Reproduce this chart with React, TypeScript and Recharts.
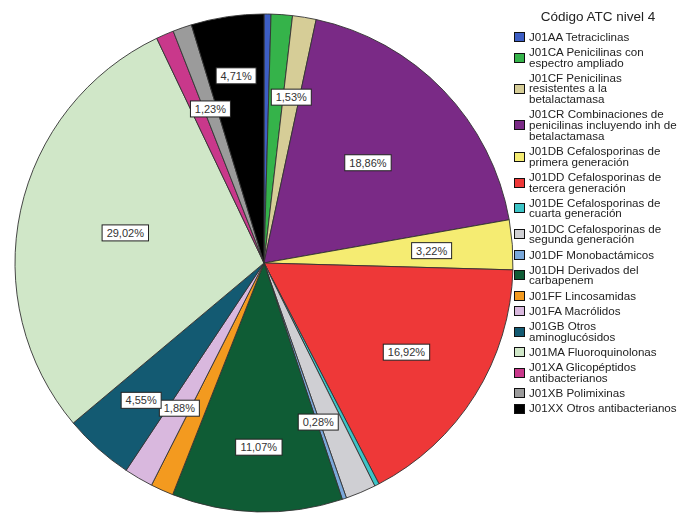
import React from 'react';
import { PieChart, Pie, Cell, Legend } from 'recharts';

// ATC level-4 codes, in the order they are drawn (clockwise from 12 o'clock)
const categories = [
  'J01AA Tetraciclinas',
  'J01CA Penicilinas con\nespectro ampliado',
  'J01CF Penicilinas\nresistentes a la\nbetalactamasa',
  'J01CR Combinaciones de\npenicilinas incluyendo inh de\nbetalactamasa',
  'J01DB Cefalosporinas de\nprimera generación',
  'J01DD Cefalosporinas de\ntercera generación',
  'J01DE Cefalosporinas de\ncuarta generación',
  'J01DC Cefalosporinas de\nsegunda generación',
  'J01DF Monobactámicos',
  'J01DH Derivados del\ncarbapenem',
  'J01FF Lincosamidas',
  'J01FA Macrólidos',
  'J01GB Otros\naminoglucósidos',
  'J01MA Fluoroquinolonas',
  'J01XA Glicopéptidos\nantibacterianos',
  'J01XB Polimixinas',
  'J01XX Otros antibacterianos',
];

// share of total (%)
const shares = [
  0.45, 1.38, 1.53, 18.86, 3.22, 16.92, 0.3, 1.97, 0.28, 11.07, 1.48, 1.88, 4.55, 29.02, 1.15, 1.23, 4.71,
];

// slices that carry a percentage box
const labelled = [
  false, false, true, true, true, true, false, false, true, true, false, true, true, true, false, true, true,
];

const colors = [
  '#3d5ec4', '#35b34a', '#d6cd97', '#7a2a86', '#f5ec72', '#ee3838', '#3cc4c6', '#cfcfd3', '#7aa8da',
  '#0f5c35', '#f39a1f', '#d9b8de', '#135a72', '#d0e7c8', '#c9388b', '#9b9b9b', '#000000',
];

const data = categories.map((name, i) => ({ name, value: shares[i], showLabel: labelled[i] }));

const FONT = '"Liberation Sans", Arial, sans-serif';
const RAD = Math.PI / 180;

// how far out each percentage box sits, as a fraction of the radius
const labelDepth: Record<number, number> = { 3: 0.58, 9: 0.74, 12: 0.74, 13: 0.57, 15: 0.655, 16: 0.76 };

const renderLabel = (props: any) => {
  const { cx, cy, midAngle, outerRadius, index, value } = props;
  if (!data[index].showLabel) return null;
  const r = outerRadius * (labelDepth[index] ?? 0.675);
  const x = cx + r * Math.cos(-midAngle * RAD);
  const y = cy + r * Math.sin(-midAngle * RAD);
  const text = `${value.toFixed(2).replace('.', ',')}%`;
  const w = text.length * 6.4 + 8;
  const h = 16;
  return (
    <g>
      <rect x={x - w / 2} y={y - h / 2} width={w} height={h} fill="#fff" stroke="#222" strokeWidth={1} />
      <text x={x} y={y + 4} textAnchor="middle" fontSize={11} fontFamily={FONT} fill="#333">
        {text}
      </text>
    </g>
  );
};

const renderLegend = () => (
  <div style={{ fontFamily: FONT, color: '#222' }}>
    <div style={{ fontSize: 13.5, lineHeight: '16px', textAlign: 'center', width: 168, marginTop: 9, marginBottom: 6.6 }}>
      Código ATC nivel 4
    </div>
    {categories.map((name, i) => (
      <div key={name} style={{ display: 'flex', alignItems: 'center', marginBottom: 4.5 }}>
        <div
          style={{
            width: 11,
            height: 10,
            boxSizing: 'border-box',
            border: '1px solid #111',
            background: colors[i],
            marginRight: 4,
            flexShrink: 0,
          }}
        />
        <div style={{ fontSize: 11.6, lineHeight: '10.7px', whiteSpace: 'pre-line' }}>{name}</div>
      </div>
    ))}
  </div>
);

export default function App() {
  return (
    <div style={{ position: 'fixed', left: 0, top: 0, width: 677, height: 516, background: '#fff' }}>
      <PieChart width={677} height={516} margin={{ top: 0, right: 0, bottom: 0, left: 0 }}>
        <Pie
          data={data}
          dataKey="value"
          nameKey="name"
          cx={264}
          cy={263}
          outerRadius={249}
          startAngle={90}
          endAngle={-270}
          stroke="#333"
          strokeWidth={0.9}
          label={renderLabel}
          labelLine={false}
          isAnimationActive={false}
        >
          {data.map((d, i) => (
            <Cell key={d.name} fill={colors[i]} />
          ))}
        </Pie>
        <Legend
          content={renderLegend}
          wrapperStyle={{ left: 514, right: 'auto', top: 0, width: 163, bottom: 'auto' }}
        />
      </PieChart>
    </div>
  );
}
